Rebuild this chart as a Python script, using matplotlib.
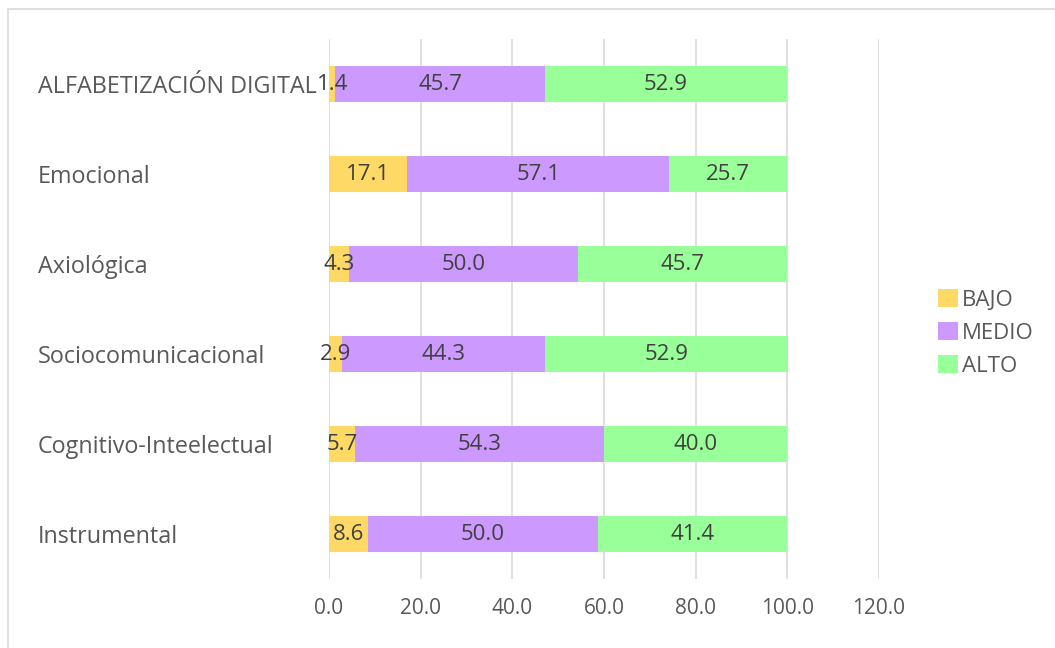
import matplotlib
matplotlib.use("Agg")
import matplotlib.pyplot as plt
from matplotlib.patches import Rectangle, Patch

categories = ["ALFABETIZACIÓN DIGITAL", "Emocional", "Axiológica",
              "Sociocomunicacional", "Cognitivo-Inteelectual", "Instrumental"]
bajo = [1.4, 17.1, 4.3, 2.9, 5.7, 8.6]
medio = [45.7, 57.1, 50.0, 44.3, 54.3, 50.0]
alto = [52.9, 25.7, 45.7, 52.9, 40.0, 41.4]
series_names = ["BAJO", "MEDIO", "ALTO"]
xticks = [0, 20, 40, 60, 80, 100, 120]

colors = ["#FFD966", "#CC99FF", "#99FF99"]
txt = "#404040"
plt.rcParams['font.family'] = ['Open Sans', 'DejaVu Sans']

W, H = 1055, 648
fig = plt.figure(figsize=(W / 100, H / 100), dpi=100)
fig.patches.append(Rectangle((8 / W, -0.1), 1.2, 1 - 9 / H + 0.1, transform=fig.transFigure,
                             fill=False, edgecolor="#d9d9d9", linewidth=1.2))
ax = fig.add_axes([329 / W, 1 - 579 / H, (879 - 329) / W, (579 - 39) / H])

ys = list(range(len(categories)))[::-1]
left = [0] * len(categories)
for name, vals, c in zip(series_names, [bajo, medio, alto], colors):
    ax.barh(ys, vals, left=left, height=0.4, color=c, label=name, zorder=3)
    for y, l, v in zip(ys, left, vals):
        ax.text(l + v / 2, y, f"{v:.1f}", ha="center", va="center", color=txt,
                fontsize=16, zorder=4)
    left = [a + b for a, b in zip(left, vals)]

ax.set_xlim(0, 120)
ax.set_ylim(-0.5, len(categories) - 0.5)
ax.set_xticks(xticks)
ax.set_xticklabels([f"{t:.1f}" for t in xticks], color="#595959", fontsize=15)
ax.set_yticks(ys)
ax.set_yticklabels(categories, color="#595959", fontsize=16.8, ha="left")
ax.tick_params(axis="y", length=0, pad=(329 - 38) * 0.72)
ax.tick_params(axis="x", length=0, pad=14)
ax.grid(axis="x", color="#d9d9d9", linewidth=1.2, zorder=0)
for s in ax.spines.values():
    s.set_visible(False)

handles = [Patch(facecolor=c, edgecolor="none") for c in colors]
fig.legend(handles, series_names, loc="center left", bbox_to_anchor=(922 / W, 1 - 333 / H),
           frameon=False, fontsize=16, labelcolor="#595959", handlelength=0.9, handleheight=0.9,
           handletextpad=0.2, labelspacing=0.5, borderpad=0.2)

fig.savefig("out.png", dpi=100)
